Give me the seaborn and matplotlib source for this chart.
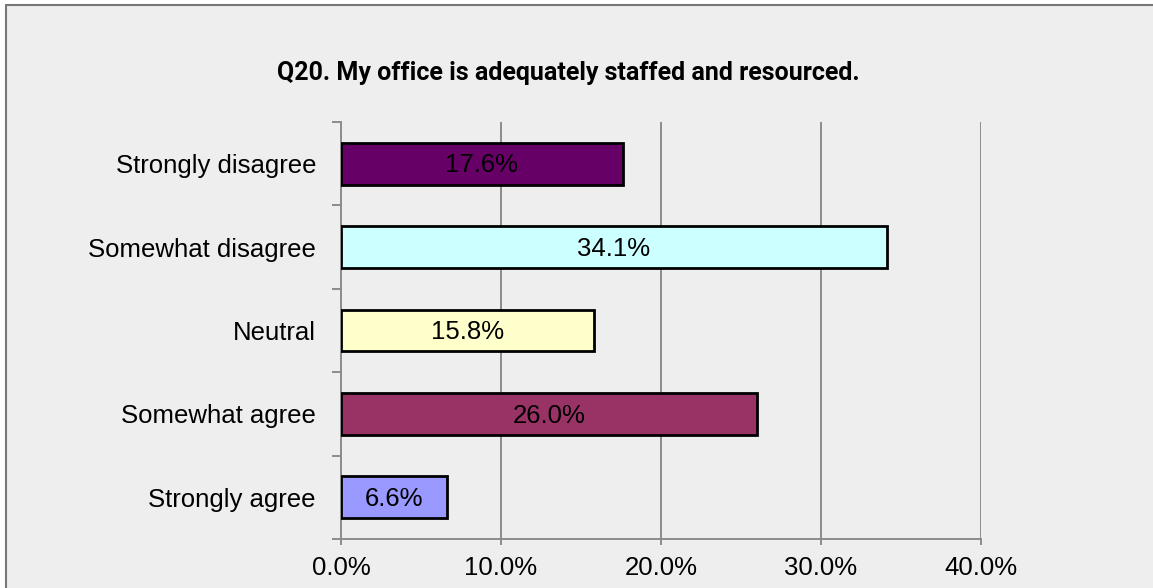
import matplotlib.pyplot as plt
import matplotlib.patches as mpatches
import seaborn as sns
import pandas as pd
import numpy as np

# Data
categories = ['Strongly disagree', 'Somewhat disagree', 'Neutral', 'Somewhat agree', 'Strongly agree']
percents = [17.6, 34.1, 15.8, 26.0, 6.6]
colors = ['#660066', '#CCFFFF', '#FFFFCC', '#993366', '#9999FF']
x_ticks = [0, 10, 20, 30, 40]
title = 'Q20. My office is adequately staffed and resourced.'

df = pd.DataFrame({'category': categories, 'percent': percents})

sns.set_style('white')
plt.rcParams['font.family'] = ['Liberation Sans', 'DejaVu Sans']
plt.rcParams['text.color'] = 'black'
plt.rcParams['xtick.color'] = 'black'
plt.rcParams['ytick.color'] = 'black'

fig = plt.figure(figsize=(11.53, 5.88), dpi=100, facecolor='white')
# outer chart area (gray) with border on top and left only
fig.patches.append(mpatches.Rectangle((6 / 1153, 0), 1, 1 - 5 / 588, transform=fig.transFigure,
                                      facecolor='#EEEEEE', edgecolor='none', zorder=-2))
fig.lines.append(plt.Line2D([6 / 1153, 6 / 1153], [0, 1 - 5 / 588], transform=fig.transFigure,
                            color='#777777', lw=1.5))
fig.lines.append(plt.Line2D([6 / 1153, 1], [1 - 5 / 588, 1 - 5 / 588], transform=fig.transFigure,
                            color='#777777', lw=1.5))

ax = fig.add_axes([341 / 1153, 1 - 539 / 588, 640 / 1153, 417 / 588])
ax.set_facecolor('#EEEEEE')

sns.barplot(data=df, x='percent', y='category', hue='category', palette=colors, saturation=1,
            width=0.5, edgecolor='black', linewidth=2, legend=False, ax=ax, zorder=3)

for i, v in enumerate(percents):
    ax.text(v / 2, i + 0.02, f'{v:.1f}%', ha='center', va='center', fontsize=18.5, color='black', zorder=4)

ax.set_xlim(0, 40)
ax.set_ylim(4.5, -0.5)
ax.set_xticks(x_ticks)
ax.set_xticklabels([f'{t:.1f}%' for t in x_ticks], fontsize=18.5)
ax.xaxis.grid(True, color='#8C8C8C', linewidth=1.4, zorder=0)
ax.set_axisbelow(True)
ax.tick_params(axis='x', bottom=True, length=4, width=1.4, color='#8C8C8C', direction='out', pad=8)
ax.set_yticks(range(len(categories)))
ax.set_yticklabels(categories, fontsize=18.5)
ax.tick_params(axis='y', which='major', left=True, length=0, pad=18)
ax.set_yticks(np.arange(-0.5, len(categories), 1), minor=True)
ax.tick_params(axis='y', which='minor', left=True, length=6.5, width=1.4, color='#8C8C8C')
ax.set_xlabel('')
ax.set_ylabel('')

for s in ['top', 'right']:
    ax.spines[s].set_visible(False)
for s in ['left', 'bottom']:
    ax.spines[s].set_color('#8C8C8C')
    ax.spines[s].set_linewidth(1.4)

fig.text(568.5 / 1153, 1 - 73 / 588, title, ha='center', va='center',
         fontsize=18, fontweight='bold', family=['Roboto', 'DejaVu Sans'])

fig.savefig('out.png', dpi=100, facecolor='white')
